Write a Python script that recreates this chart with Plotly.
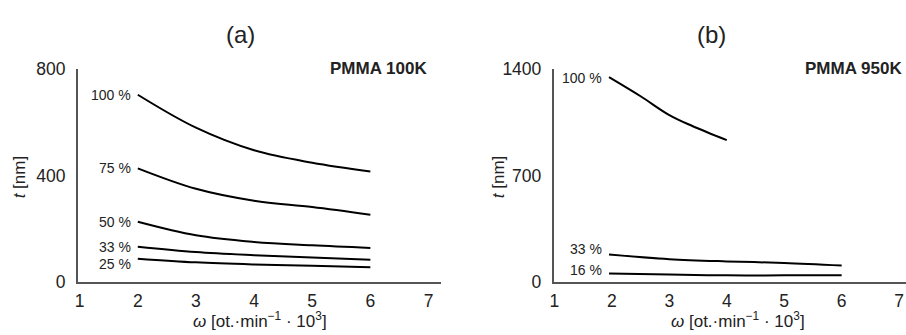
import plotly.graph_objects as go

# ---- data ----
omega_a = [2, 3, 4, 5, 6]
a_100 = [704, 580, 495, 448, 415]
a_75 = [427, 350, 305, 281, 252]
a_50 = [226, 175, 150, 137, 127]
a_33 = [132, 112, 100, 91, 83]
a_25 = [87, 73, 65, 60, 55]

omega_b_100 = [1.95, 2.5, 3, 3.4, 4]
b_100 = [1348, 1222, 1098, 1026, 933]
omega_b = [1.95, 3, 4, 5, 6]
b_33 = [180, 149, 134, 124, 107]
b_16 = [55, 48, 42, 42, 42]

x_ticks = [1, 2, 3, 4, 5, 6, 7]
ya_ticks = [0, 400, 800]
yb_ticks = [0, 700, 1400]

FONT = "Liberation Sans, Arial, sans-serif"
W, H = 906, 335

fig = go.Figure()

series_a = [("100 %", a_100, 0), ("75 %", a_75, 0), ("50 %", a_50, 0),
            ("33 %", a_33, 0), ("25 %", a_25, -5)]
for name, ys, ysh in series_a:
    fig.add_trace(go.Scatter(x=omega_a, y=ys, mode="lines", line=dict(color="black", width=2, shape="spline", smoothing=1.0),
                             xaxis="x", yaxis="y", showlegend=False, hoverinfo="skip"))
    fig.add_annotation(x=omega_a[0], y=ys[0], xref="x", yref="y", text=name, showarrow=False,
                       xanchor="right", yanchor="middle", xshift=-5, yshift=ysh,
                       font=dict(family=FONT, size=14, color="#222"))

series_b = [("100 %", omega_b_100, b_100, -1), ("33 %", omega_b, b_33, 5), ("16 %", omega_b, b_16, 3)]
for name, xs, ys, ysh in series_b:
    fig.add_trace(go.Scatter(x=xs, y=ys, mode="lines", line=dict(color="black", width=2, shape="spline", smoothing=1.0),
                             xaxis="x2", yaxis="y2", showlegend=False, hoverinfo="skip"))
    fig.add_annotation(x=xs[0], y=ys[0], xref="x2", yref="y2", text=name, showarrow=False,
                       xanchor="right", yanchor="middle", xshift=-5, yshift=ysh,
                       font=dict(family=FONT, size=14, color="#222"))

ax_common = dict(showgrid=False, zeroline=False, showline=True, linecolor="#555", linewidth=1.5,
                 ticks="", tickfont=dict(family=FONT, size=17.5, color="#222"))

def px_x(p):
    return p / W

def px_y(p):
    return 1 - p / H

fig.update_layout(
    width=W, height=H, margin=dict(l=0, r=0, t=0, b=0),
    paper_bgcolor="white", plot_bgcolor="white",
    xaxis=dict(domain=[px_x(74), px_x(439)], range=[0.966, 7.216], tickvals=x_ticks,
               ticklabelstandoff=3, anchor="y", **ax_common),
    yaxis=dict(domain=[px_y(289), px_y(63)], range=[0, 800], tickvals=ya_ticks,
               ticklabelstandoff=7, anchor="x", **ax_common),
    xaxis2=dict(domain=[px_x(552), 1.0], range=[0.985, 7.12], tickvals=x_ticks,
                ticklabelstandoff=3, anchor="y2", **ax_common),
    yaxis2=dict(domain=[px_y(289), px_y(63)], range=[0, 1400], tickvals=yb_ticks,
                ticklabelstandoff=7, anchor="x2", **ax_common),
)

def paper_ann(x, y, text, size, xanchor="center", yanchor="middle", angle=0, bold=False):
    fig.add_annotation(x=px_x(x), y=px_y(y), xref="paper", yref="paper", text=f"<b>{text}</b>" if bold else text,
                       showarrow=False, xanchor=xanchor, yanchor=yanchor, textangle=angle,
                       font=dict(family=FONT, size=size, color="#222"))

xtitle = "<i>ω</i> [ot.·min<sup>−1</sup> · 10<sup>3</sup>]"
ytitle = "<i>t</i> [nm]"

paper_ann(238, 26, "(a)", 24)
paper_ann(711, 26, "(b)", 24)
paper_ann(427, 62, "PMMA 100K", 17, xanchor="right", bold=True)
paper_ann(904, 62, "PMMA 950K", 17, xanchor="right", bold=True)
paper_ann(257, 330, xtitle, 17)
paper_ann(737, 330, xtitle, 17)
paper_ann(16, 177, ytitle, 17, angle=-90)
paper_ann(497, 177, ytitle, 17, angle=-90)

fig.write_html("out.html", config={"displayModeBar": False},
               post_script="document.body.style.margin='0';document.body.style.overflow='hidden';")
